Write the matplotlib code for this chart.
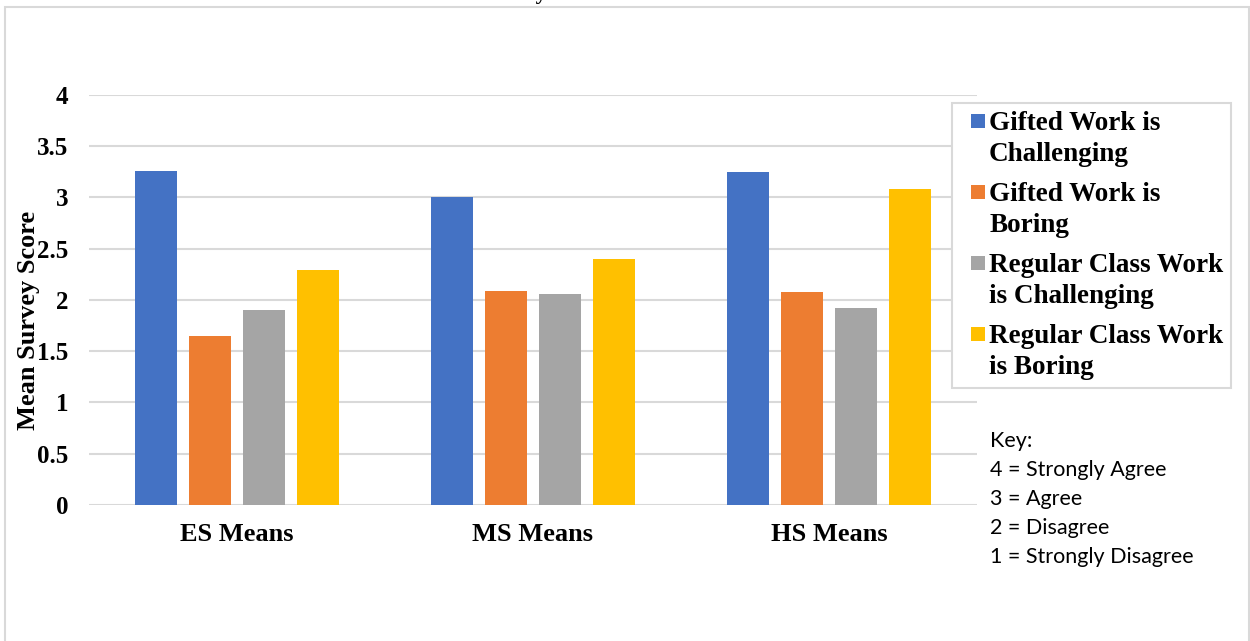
import numpy as np
import matplotlib
matplotlib.use("Agg")
import matplotlib.pyplot as plt
from matplotlib.patches import Rectangle
from matplotlib.container import BarContainer
from matplotlib.legend_handler import HandlerPatch

categories = ["ES Means", "MS Means", "HS Means"]
series_names = ["Gifted Work is\nChallenging", "Gifted Work is\nBoring",
                "Regular Class Work\nis Challenging", "Regular Class Work\nis Boring"]
gifted_challenging = [3.26, 3.00, 3.25]
gifted_boring = [1.65, 2.09, 2.08]
regular_challenging = [1.90, 2.06, 1.92]
regular_boring = [2.29, 2.40, 3.08]
key_lines = ["Key:", "4 = Strongly Agree", "3 = Agree", "2 = Disagree", "1 = Strongly Disagree"]

colors = ["#4472C4", "#ED7D31", "#A5A5A5", "#FFC000"]
grid_color = "#D9D9D9"
serif = "Liberation Serif"

fig = plt.figure(figsize=(12.5, 6.41), dpi=100)
ax = fig.add_axes([0.0712, 0.2122, 0.7104, 0.6396])

x = np.arange(len(categories))
step = 0.1824
width = 0.145
all_series = [gifted_challenging, gifted_boring, regular_challenging, regular_boring]
for i, (vals, name, c) in enumerate(zip(all_series, series_names, colors)):
    ax.bar(x + (i - 1.5) * step, vals, width, color=c, label=name, zorder=3)

ax.set_xlim(-0.5, 2.5)
ax.set_ylim(0, 4)
ax.set_yticks(np.arange(0, 4.01, 0.5))
ax.set_yticklabels(["0", "0.5", "1", "1.5", "2", "2.5", "3", "3.5", "4"])
ax.set_xticks(x)
ax.set_xticklabels(categories)
ax.grid(axis="y", color=grid_color, linewidth=1.5, zorder=0)
for s in ax.spines.values():
    s.set_visible(False)
ax.tick_params(axis="both", length=0)
ax.tick_params(axis="y", pad=15)
ax.tick_params(axis="x", pad=13)
for lab in ax.get_yticklabels():
    lab.set_fontfamily(serif)
    lab.set_fontweight("bold")
    lab.set_fontsize(18)
for lab in ax.get_xticklabels():
    lab.set_fontfamily(serif)
    lab.set_fontweight("bold")
    lab.set_fontsize(19)

ax.set_ylabel("Mean Survey Score", fontfamily=serif, fontweight="bold",
              fontsize=19, va="center")
ax.yaxis.set_label_coords(-0.0676, 0.451)


# square marker beside the first line of each two-line label
def square_top(legend, orig_handle, xdescent, ydescent, width, height, fontsize):
    sq = 10.0
    return Rectangle((-xdescent + width - sq,
                      -ydescent + (height - sq) / 2 + 0.66 * fontsize), sq, sq)


def first_child(legend_handle, orig_handle):
    legend_handle.update_from(orig_handle[0])


leg = ax.legend(loc="upper left", bbox_to_anchor=(0.7616, 0.8393),
                bbox_transform=fig.transFigure, borderaxespad=0,
                prop={"family": serif, "weight": "bold", "size": 19.5},
                frameon=True, fancybox=False, edgecolor=grid_color,
                framealpha=1, borderpad=0.3, handlelength=0.9,
                handletextpad=0.17, labelspacing=0.55,
                handler_map={BarContainer: HandlerPatch(patch_func=square_top,
                                                        update_func=first_child)})
leg.get_frame().set_linewidth(1.5)
for t in leg.get_texts():
    t.set_linespacing(1.32)

ky = 441
for line in key_lines:
    fig.text(990 / 1250, 1 - ky / 641, line, fontfamily="Lato", fontsize=15.5,
             ha="left", va="center")
    ky += 29

# chart border and clipped title
fig.patches.append(Rectangle((0.004, -0.01), 0.995, 0.999,
                             transform=fig.transFigure, fill=False,
                             edgecolor=grid_color, linewidth=1.5))
fig.text(480 / 1250, 1 + 1 / 641, "Survey Means", fontfamily=serif,
         fontweight="bold", fontsize=16, ha="left", va="baseline")

fig.savefig("out.png", dpi=100)
